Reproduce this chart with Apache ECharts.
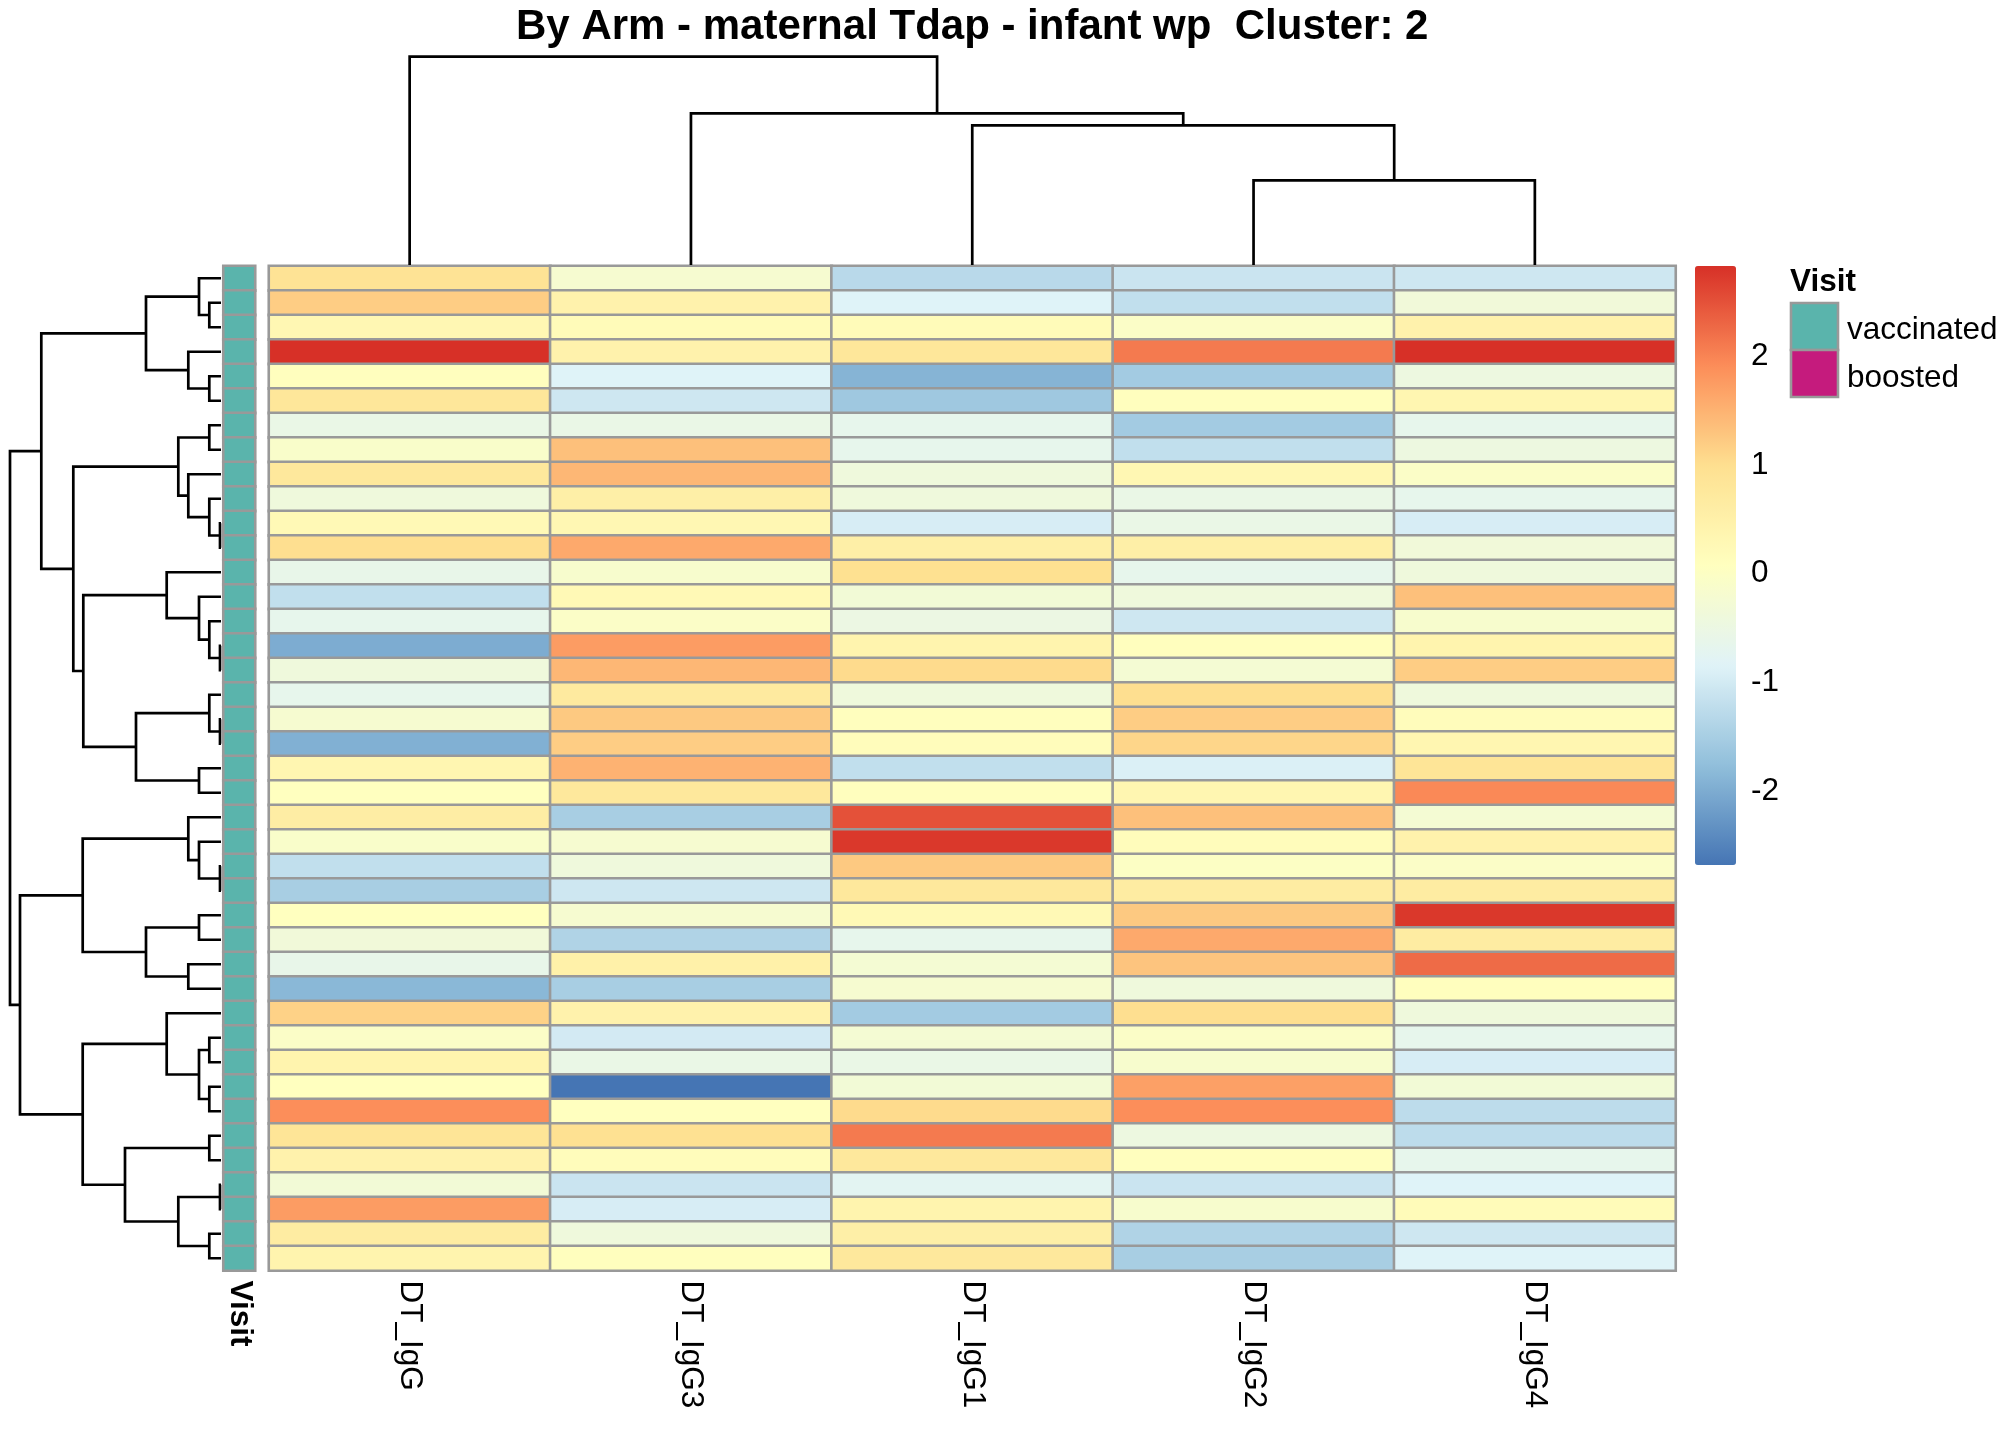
<!DOCTYPE html>
<html>
<head>
<meta charset="utf-8">
<script src="https://cdn.jsdelivr.net/npm/echarts@6/dist/echarts.min.js"></script>
<style>
html,body{margin:0;padding:0;background:#ffffff;}
#chart{width:2016px;height:1440px;}
</style>
</head>
<body>
<div id="chart"></div>
<script>
// ---------------- data ----------------
const chartTitle = 'By Arm - maternal Tdap - infant wp  Cluster: 2';
const columns = ['DT_IgG', 'DT_IgG3', 'DT_IgG1', 'DT_IgG2', 'DT_IgG4'];

const DT_IgG  = [0.9, 1.2, 0.3, 2.83, 0.1, 0.8, -0.55, -0.1, 0.75, -0.4, 0.25, 1.0, -0.6, -1.2, -0.65, -2.0, -0.4, -0.65, -0.2, -1.95, 0.35, 0.07, 0.6, -0.1, -1.2, -1.5, 0.07, -0.35, -0.6, -1.85, 1.15, -0.05, 0.4, 0.07, 1.9, 0.85, 0.45, -0.3, 1.75, 0.65, 0.4];
const DT_IgG3 = [-0.2, 0.45, 0.2, 0.45, -0.85, -1.05, -0.55, 1.35, 1.45, 0.55, 0.3, 1.6, -0.15, 0.25, -0.05, 1.75, 1.45, 0.7, 1.25, 1.2, 1.5, 0.75, -1.5, -0.2, -0.4, -1.05, -0.2, -1.4, 0.5, -1.5, 0.45, -1.0, -0.55, -2.68, 0.07, 0.95, 0.15, -1.1, -0.95, -0.4, 0.1];
const DT_IgG1 = [-1.3, -0.85, 0.2, 0.8, -1.9, -1.6, -0.65, -0.65, -0.4, -0.4, -0.95, 0.55, 0.97, -0.3, -0.5, 0.4, 1.05, -0.4, 0.1, 0.15, -1.2, 0.1, 2.5, 2.75, 1.25, 0.75, 0.25, -0.65, -0.25, -0.2, -1.55, -0.25, -0.55, -0.3, 1.05, 2.1, 0.75, -0.75, 0.4, 0.55, 0.75];
const DT_IgG2 = [-1.1, -1.2, -0.05, 2.1, -1.55, 0.1, -1.55, -1.2, 0.3, -0.55, -0.55, 0.55, -0.65, -0.4, -1.05, 0.1, -0.25, 1.0, 1.2, 1.1, -0.9, 0.35, 1.35, 0.15, 0.0, 0.65, 1.25, 1.6, 1.3, -0.4, 1.0, -0.05, -0.15, 1.7, 1.9, -0.45, 0.1, -1.1, -0.15, -1.4, -1.5];
const DT_IgG4 = [-1.05, -0.35, 0.45, 2.83, -0.45, 0.35, -0.65, -0.45, -0.05, -0.65, -0.95, -0.35, -0.4, 1.35, -0.15, 0.4, 1.2, -0.4, 0.15, 0.35, 0.85, 1.95, -0.25, 0.45, -0.05, 0.65, 2.75, 0.65, 2.25, 0.1, -0.4, -0.65, -0.95, -0.3, -1.25, -1.25, -0.65, -0.85, 0.2, -1.05, -0.85];

const visit = ['vaccinated','vaccinated','vaccinated','vaccinated','vaccinated','vaccinated','vaccinated','vaccinated','vaccinated','vaccinated',
               'vaccinated','vaccinated','vaccinated','vaccinated','vaccinated','vaccinated','vaccinated','vaccinated','vaccinated','vaccinated',
               'vaccinated','vaccinated','vaccinated','vaccinated','vaccinated','vaccinated','vaccinated','vaccinated','vaccinated','vaccinated',
               'vaccinated','vaccinated','vaccinated','vaccinated','vaccinated','vaccinated','vaccinated','vaccinated','vaccinated','vaccinated',
               'vaccinated'];
const visitLevels = ['vaccinated', 'boosted'];
const visitColors = ['#5AB4AC', '#C51B7D'];
const annotationName = 'Visit';

const heatPalette = ['#4575B4', '#91BFDB', '#E0F3F8', '#FFFFBF', '#FEE090', '#FC8D59', '#D73027'];
const colorbarTicks = [-2, -1, 0, 1, 2];

// dendrograms: [height, left, right]; leaves are row / column indices
const rowTree =
  [211.0,
    [179.7,
      [75.0, [22.0, 0, [11.7, 1, 2]], [32.7, 3, [11.7, 4, 5]]],
      [147.7,
        [42.7, [11.7, 6, 7], [32.7, 8, [11.7, 9, [1.0, 10, 11]]]],
        [137.7,
          [54.3, 12, [22.0, 13, [11.7, 14, [1.0, 15, 16]]]],
          [85.0, [11.7, 17, [1.0, 18, 19]], [22.0, 20, 21]]]]],
    [201.0,
      [138.3, [32.7, 22, [22.0, 23, [1.0, 24, 25]]], [75.0, [22.0, 26, 27], [32.7, 28, 29]]],
      [138.3, [54.3, 30, [22.0, [11.7, 31, 32], [11.7, 33, 34]]],
              [96.0, [11.7, 35, 36], [42.7, [1.0, 37, 38], [11.7, 39, 40]]]]]];
const colTree = [208.3, 0, [151.7, 1, [139.7, 2, [84.7, 3, 4]]]];

// ---------------- build ----------------
const FONT = "'Liberation Sans', Arial, Helvetica, sans-serif";
const seriesCols = [DT_IgG, DT_IgG3, DT_IgG1, DT_IgG2, DT_IgG4];
const nRows = DT_IgG.length;
const rowIds = DT_IgG.map((_, i) => 'r' + (i + 1));

const heatData = [];
seriesCols.forEach((col, ci) => col.forEach((v, ri) => heatData.push([ci, ri, v])));
const allVals = heatData.map(d => d[2]);
const vMin = Math.min(...allVals);
const vMax = Math.max(...allVals);

const annData = visit.map((v, ri) => [0, ri, visitLevels.indexOf(v)]);

function flatten(tree) {
  const segs = [];
  (function walk(n) {
    if (typeof n === 'number') return { p: n, h: 0 };
    const a = walk(n[1]), b = walk(n[2]);
    segs.push([a.p, a.h, b.p, b.h, n[0]]);
    return { p: (a.p + b.p) / 2, h: n[0] };
  })(tree);
  return segs;
}
const rowSegs = flatten(rowTree);
const colSegs = flatten(colTree);

function dendroRender(horizontal) {
  return function (params, api) {
    const p1 = api.value(0), h1 = api.value(1), p2 = api.value(2), h2 = api.value(3), h = api.value(4);
    const raw = horizontal
      ? [[h1, p1], [h, p1], [h, p2], [h2, p2]]
      : [[p1, h1], [p1, h], [p2, h], [p2, h2]];
    return {
      type: 'polyline',
      shape: { points: raw.map(d => api.coord(d)) },
      style: { stroke: '#000000', lineWidth: 2.7, fill: null, lineJoin: 'miter', lineCap: 'butt' }
    };
  };
}

// layout
const HM = { left: 269, top: 266, width: 1406.5, height: 1004.5 };
const LABEL = 31.5;
const CELL_BORDER = 2.6;

const chart = echarts.init(document.getElementById('chart'), null, { renderer: 'canvas' });
chart.setOption({
  animation: false,
  backgroundColor: '#ffffff',
  grid: [
    { left: HM.left, top: HM.top, width: HM.width, height: HM.height },
    { left: 223.5, top: HM.top, width: 31.5, height: HM.height },
    { left: 10, top: HM.top, width: 211, height: HM.height },
    { left: HM.left, top: 265 - colTree[0], width: HM.width, height: colTree[0] },
    { left: 1695, top: 266, width: 41, height: 599 }
  ],
  xAxis: [
    { type: 'category', gridIndex: 0, data: columns,
      axisLine: { show: false }, axisTick: { show: false }, splitLine: { show: false },
      axisLabel: { rotate: -90, margin: 10, fontSize: LABEL, color: '#000', fontFamily: FONT, interval: 0 } },
    { type: 'category', gridIndex: 1, data: [annotationName],
      axisLine: { show: false }, axisTick: { show: false }, splitLine: { show: false },
      axisLabel: { rotate: -90, margin: 10, fontSize: LABEL, fontWeight: 'bold', color: '#000', fontFamily: FONT } },
    { type: 'value', gridIndex: 2, min: 0, max: rowTree[0], inverse: true, show: false },
    { type: 'value', gridIndex: 3, min: -0.5, max: columns.length - 0.5, show: false },
    { type: 'value', gridIndex: 4, min: 0, max: 1, show: false }
  ],
  yAxis: [
    { type: 'category', gridIndex: 0, data: rowIds, inverse: true, show: false },
    { type: 'category', gridIndex: 1, data: rowIds, inverse: true, show: false },
    { type: 'value', gridIndex: 2, min: -0.5, max: nRows - 0.5, inverse: true, show: false },
    { type: 'value', gridIndex: 3, min: 0, max: colTree[0], show: false },
    { type: 'value', gridIndex: 4, min: vMin, max: vMax, position: 'right',
      axisLine: { show: false }, axisTick: { show: false }, splitLine: { show: false },
      axisLabel: { customValues: colorbarTicks, margin: 15, fontSize: LABEL, color: '#000', fontFamily: FONT } }
  ],
  visualMap: [
    { type: 'continuous', seriesIndex: 0, dimension: 2, min: vMin, max: vMax,
      inRange: { color: heatPalette }, orient: 'vertical',
      left: 1695, top: 266, itemWidth: 41, itemHeight: 599, padding: 0,
      calculable: false, hoverLink: false, text: null },
    { type: 'piecewise', seriesIndex: 1, dimension: 2, show: false,
      pieces: visitLevels.map((l, i) => ({ value: i, label: l, color: visitColors[i] })) }
  ],
  series: [
    { type: 'heatmap', xAxisIndex: 0, yAxisIndex: 0, data: heatData,
      itemStyle: { borderColor: '#999999', borderWidth: CELL_BORDER },
      emphasis: { disabled: true } },
    { type: 'heatmap', xAxisIndex: 1, yAxisIndex: 1, data: annData,
      itemStyle: { borderColor: '#999999', borderWidth: CELL_BORDER },
      emphasis: { disabled: true } },
    { type: 'custom', xAxisIndex: 2, yAxisIndex: 2, data: rowSegs, clip: false,
      renderItem: dendroRender(true), silent: true },
    { type: 'custom', xAxisIndex: 3, yAxisIndex: 3, data: colSegs, clip: false,
      renderItem: dendroRender(false), silent: true }
  ],
  graphic: [
    { type: 'text', x: (HM.left + HM.left + HM.width) / 2, y: 27,
      style: { text: chartTitle, font: 'bold 42px ' + FONT, fill: '#000',
               align: 'center', verticalAlign: 'middle', textAlign: 'center', textVerticalAlign: 'middle' } },
    { type: 'text', x: 1790, y: 282,
      style: { text: annotationName, font: 'bold ' + LABEL + 'px ' + FONT, fill: '#000',
               align: 'left', verticalAlign: 'middle', textAlign: 'left', textVerticalAlign: 'middle' } }
  ].concat(visitLevels.flatMap((l, i) => [
    { type: 'rect', shape: { x: 1791, y: 303 + i * 47, width: 47, height: 47 },
      style: { fill: visitColors[i], stroke: '#999999', lineWidth: CELL_BORDER } },
    { type: 'text', x: 1847, y: 330 + i * 48,
      style: { text: l, font: LABEL + 'px ' + FONT, fill: '#000',
               align: 'left', verticalAlign: 'middle', textAlign: 'left', textVerticalAlign: 'middle' } }
  ]))
});
</script>
</body>
</html>
